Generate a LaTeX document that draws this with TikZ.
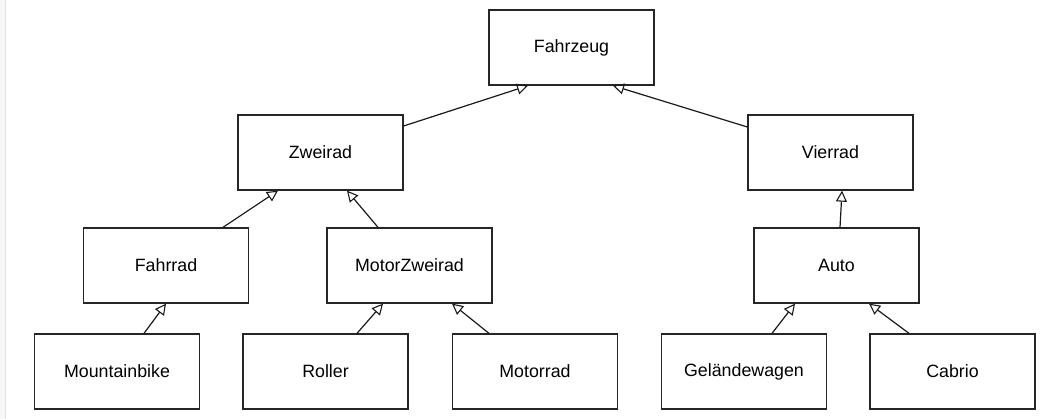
\documentclass[tikz,border=0pt]{standalone}
\usepackage{fontspec}
\setmainfont{Liberation Sans}
\usetikzlibrary{arrows.meta}
\begin{document}
\begin{tikzpicture}[x=1pt,y=-1pt,
  cls/.style={draw=black!85, line width=1.3pt, fill=white, minimum width=165pt, minimum height=75pt, inner sep=0pt, font=\fontsize{17.8}{20}\selectfont},
  inh/.style={line width=1.2pt, draw=black!90, -{Triangle[open,length=11pt,width=11pt,line width=1.1pt]}}]
\useasboundingbox (0,0) rectangle (1062,419);
\fill[black!3] (0,0) rectangle (5,419);
\draw[black!12, line width=1pt] (5.5,0) -- (5.5,419);
% nodes (centres)
\node[cls] (fz) at (571.5,47.5) {Fahrzeug};
\node[cls] (zr) at (320.5,152.5) {Zweirad};
\node[cls] (vr) at (830.5,152.5) {Vierrad};
\node[cls] (fr) at (166,265.5) {Fahrrad};
\node[cls] (mz) at (409.5,265.5) {MotorZweirad};
\node[cls] (au) at (836.5,265.5) {Auto};
\node[cls] (mb) at (117,371.5) {Mountainbike};
\node[cls] (ro) at (325.5,371.5) {Roller};
\node[cls] (mr) at (535,371.5) {Motorrad};
\node[cls] (gw) at (744,371.5) {Geländewagen};
\node[cls] (cb) at (952.5,371.5) {Cabrio};
% connectors
\draw[inh] (zr.east |- 0,126) -- (fz.south -| 528,0);
\draw[inh] (vr.west |- 0,127) -- (fz.south -| 613,0);
\draw[inh] (fr.north -| 223,0) -- (zr.south -| 278,0);
\draw[inh] (mz.north -| 378,0) -- (zr.south -| 347,0);
\draw[inh] (mb.north -| 144,0) -- (fr.south -| 166,0);
\draw[inh] (ro.north -| 357,0) -- (mz.south -| 383,0);
\draw[inh] (mr.north -| 489,0) -- (mz.south -| 452,0);
\draw[inh] (au.north -| 840,0) -- (vr.south -| 842,0);
\draw[inh] (gw.north -| 772,0) -- (au.south -| 795,0);
\draw[inh] (cb.north -| 909,0) -- (au.south -| 869,0);
\end{tikzpicture}
\end{document}
